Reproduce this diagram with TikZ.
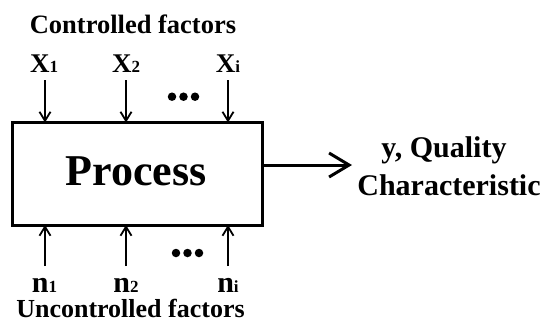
\documentclass[tikz,border=0pt]{standalone}
\usepackage{fontspec}
\setmainfont{Liberation Serif}
\usetikzlibrary{arrows.meta}
\tikzset{
  lbl/.style={inner sep=0pt, font=\bfseries},
  inarrow/.style={line width=1.8pt, -{Straight Barb[length=9pt,width=11pt,line width=1.8pt]}},
  outarrow/.style={line width=3pt, -{Straight Barb[length=20pt,width=24pt,line width=3pt]}},
  procbox/.style={draw, line width=3pt, inner sep=0pt},
  dotmark/.style={fill=black, circle, inner sep=0pt, minimum size=8.5pt},
}
\newcommand{\subidx}[2]{#1{\fontsize{17}{17}\selectfont #2}}
\begin{document}
\begin{tikzpicture}[x=1pt,y=-1pt]
\useasboundingbox (0,0) rectangle (548,325);
% process box
\node[procbox, minimum width=249.5pt, minimum height=102.5pt] (box) at (137.25,173.75) {};
\node[lbl, anchor=base, font=\bfseries\fontsize{44}{44}\selectfont] (proc) at (136,185) {Process};
% top labels
\node[lbl, anchor=base, font=\bfseries\fontsize{26.5}{26.5}\selectfont] (ctrl) at (133,33) {Controlled factors};
\node[lbl, anchor=base, font=\bfseries\fontsize{27}{27}\selectfont] (x1) at (44,72) {\subidx{X}{1}};
\node[lbl, anchor=base, font=\bfseries\fontsize{27}{27}\selectfont] (x2) at (126,72) {\subidx{X}{2}};
\node[lbl, anchor=base, font=\bfseries\fontsize{27}{27}\selectfont] (xi) at (228,72) {\subidx{X}{i}};
\node[dotmark] (td1) at (172,96.7) {};
\node[dotmark] (td2) at (183.5,96.7) {};
\node[dotmark] (td3) at (195,96.7) {};
% top anchors
\coordinate (t1s) at (45,80); \coordinate (t1e) at (45,122.5);
\coordinate (t2s) at (126,80); \coordinate (t2e) at (126,122.5);
\coordinate (t3s) at (228,80); \coordinate (t3e) at (228,122.5);
\draw[inarrow] (t1s) -- (t1e);
\draw[inarrow] (t2s) -- (t2e);
\draw[inarrow] (t3s) -- (t3e);
% bottom
\coordinate (b1s) at (45,266); \coordinate (b1e) at (45,225);
\coordinate (b2s) at (126,266); \coordinate (b2e) at (126,225);
\coordinate (b3s) at (228,266); \coordinate (b3e) at (228,225);
\draw[inarrow] (b1s) -- (b1e);
\draw[inarrow] (b2s) -- (b2e);
\draw[inarrow] (b3s) -- (b3e);
\node[dotmark] (bd1) at (176,253) {};
\node[dotmark] (bd2) at (187.5,253) {};
\node[dotmark] (bd3) at (199,253) {};
\node[lbl, anchor=base, text depth=0pt, font=\bfseries\fontsize{30}{30}\selectfont] (n1) at (44.5,292) {\subidx{n}{1}};
\node[lbl, anchor=base, text depth=0pt, font=\bfseries\fontsize{30}{30}\selectfont] (n2) at (126,292) {\subidx{n}{2}};
\node[lbl, anchor=base, text depth=0pt, font=\bfseries\fontsize{30}{30}\selectfont] (ni) at (228,292) {\subidx{n}{i}};
\node[lbl, anchor=base, text height=18pt, font=\bfseries\fontsize{26}{26}\selectfont] (unc) at (130.5,317) {Uncontrolled factors};
% output
\coordinate (oute) at (352,165);
\draw[outarrow] (box.east |- oute) -- (oute);
\node[lbl, anchor=base, font=\bfseries\fontsize{30}{30}\selectfont] (yq) at (444,157) {y, Quality};
\node[lbl, anchor=base, font=\bfseries\fontsize{30}{30}\selectfont] (qc) at (449,195) {Characteristic};
\end{tikzpicture}
\end{document}
